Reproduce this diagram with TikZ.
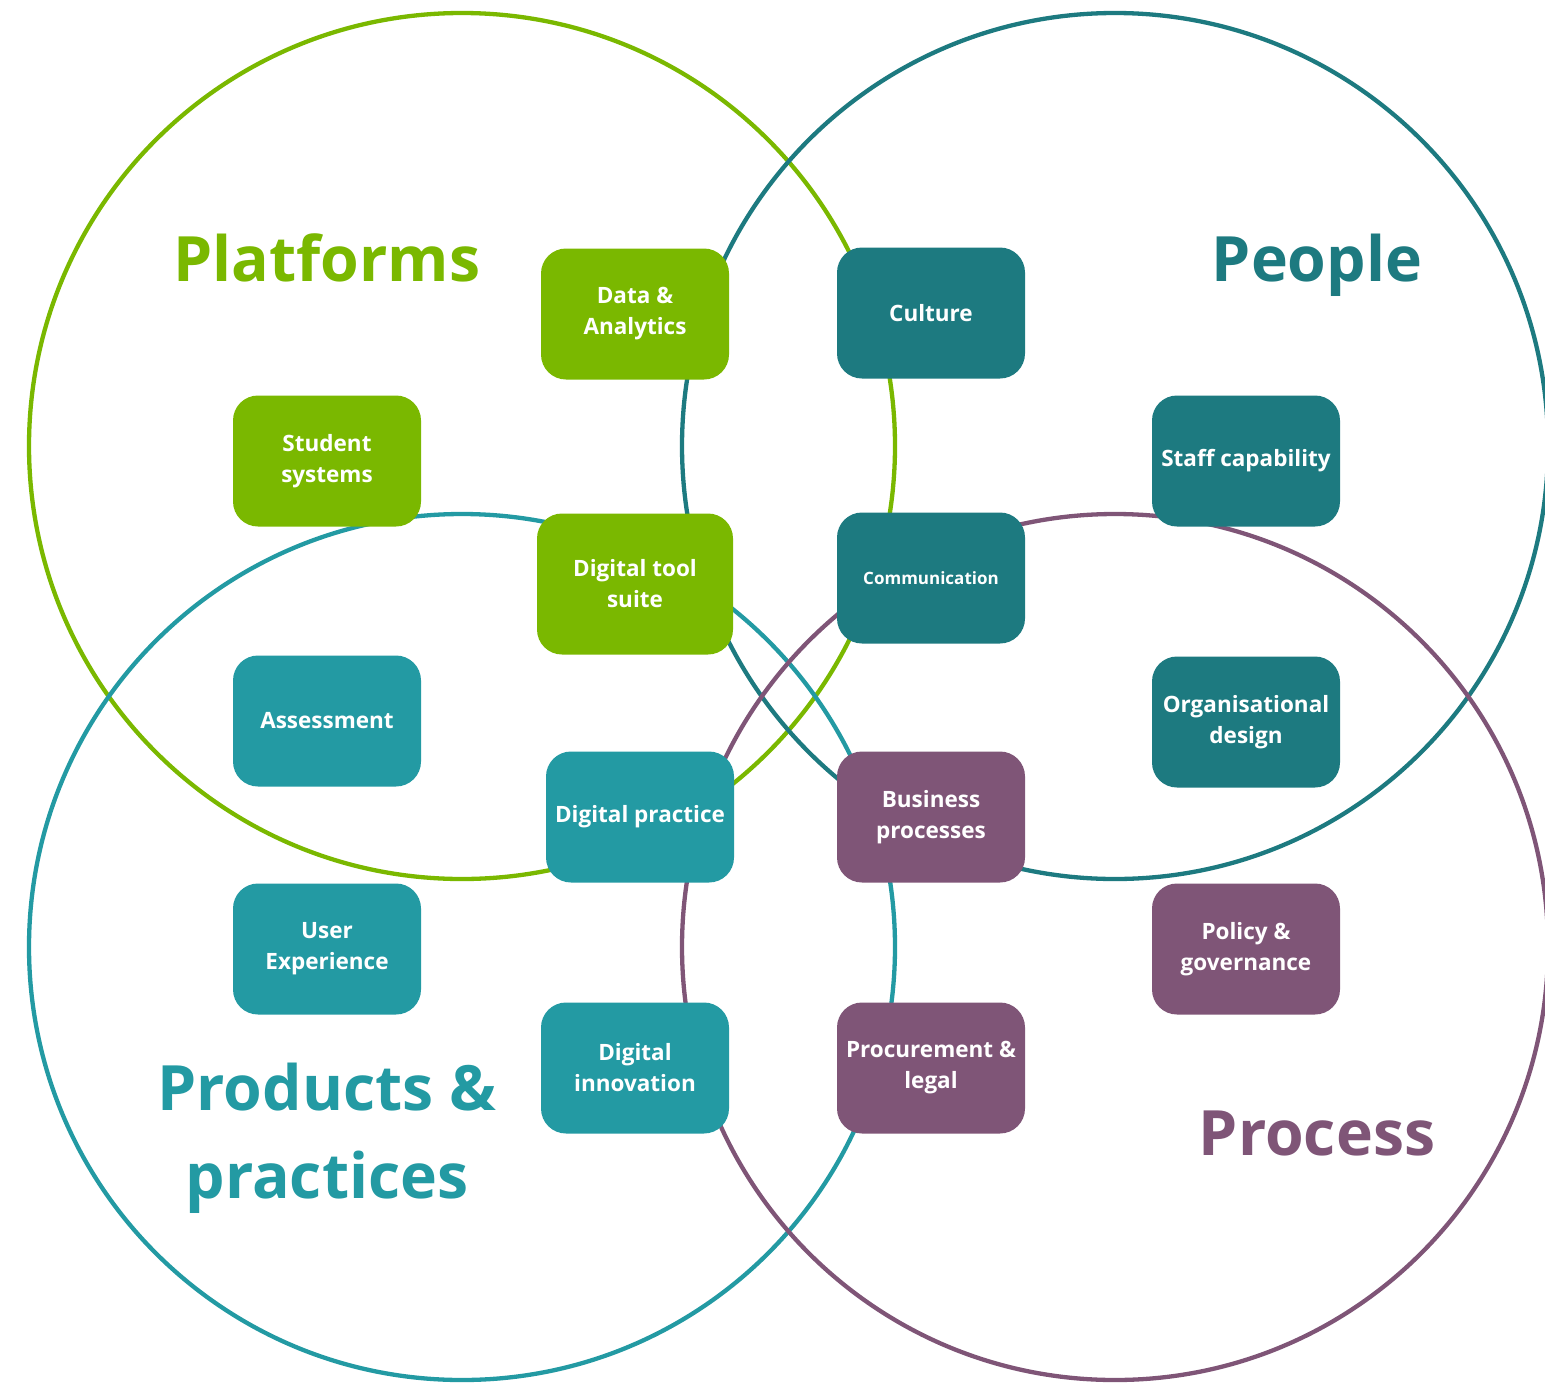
\documentclass[tikz,border=0pt]{standalone}
\usepackage{fontspec}
\setmainfont{Open Sans}
\definecolor{cgreen}{HTML}{7AB800}
\definecolor{cdteal}{HTML}{1D7A80}
\definecolor{clteal}{HTML}{239AA3}
\definecolor{cpurple}{HTML}{7F5577}
\tikzset{
  ring/.style={line width=4.3pt},
  box/.style={rounded corners=25pt, minimum width=188pt, minimum height=131pt, inner sep=2pt,
    text=white, align=center, font=\bfseries\fontsize{22.5}{31}\selectfont},
  big/.style={font=\bfseries\fontsize{62.5}{88}\selectfont, align=center},
}
\begin{document}
\begin{tikzpicture}[x=1pt,y=-1pt]
\useasboundingbox (0,0) rectangle (1545,1382);
\begin{scope}
\clip (0,0) rectangle (1545,1382);
\draw[ring, cgreen] (462,446) circle (433);
\draw[ring, cdteal] (1115,446) circle (433);
\draw[ring, clteal] (462,947) circle (433);
\draw[ring, cpurple] (1115,947) circle (433);
\end{scope}

\node[big, text=cgreen, anchor=base] (tplat) at (327,281) {Platforms};
\node[big, text=cdteal, anchor=base] (tpeop) at (1317,281) {People};
\node[big, text=clteal] (tprod) at (327,1138) {Products \&\\practices};
\node[big, text=cpurple, anchor=base] (tproc) at (1317,1155) {Process};

\node[box, fill=cgreen] (data) at (635,314) {Data \&\\Analytics};
\node[box, fill=cdteal] (cult) at (931,313) {Culture};
\node[box, fill=cgreen] (stud) at (327,461) {Student\\systems};
\node[box, fill=cdteal] (staff) at (1246,461) {Staff capability};
\node[box, fill=cgreen, minimum width=196pt, minimum height=141pt] (tool) at (635,584) {Digital tool\\suite};
\node[box, fill=cdteal, font=\bfseries\fontsize{17}{22}\selectfont] (comm) at (931,578) {Communication};
\node[box, fill=clteal] (assess) at (327,721) {Assessment};
\node[box, fill=cdteal] (org) at (1246,722) {Organisational\\design};
\node[box, fill=clteal] (dprac) at (640,817) {Digital practice};
\node[box, fill=cpurple] (bus) at (931,817) {Business\\processes};
\node[box, fill=clteal] (ux) at (327,949) {User\\Experience};
\node[box, fill=cpurple] (pol) at (1246,949) {Policy \&\\governance};
\node[box, fill=clteal] (dinn) at (635,1068) {Digital\\innovation};
\node[box, fill=cpurple] (proc) at (931,1068) {Procurement \&\\legal};
\end{tikzpicture}
\end{document}
